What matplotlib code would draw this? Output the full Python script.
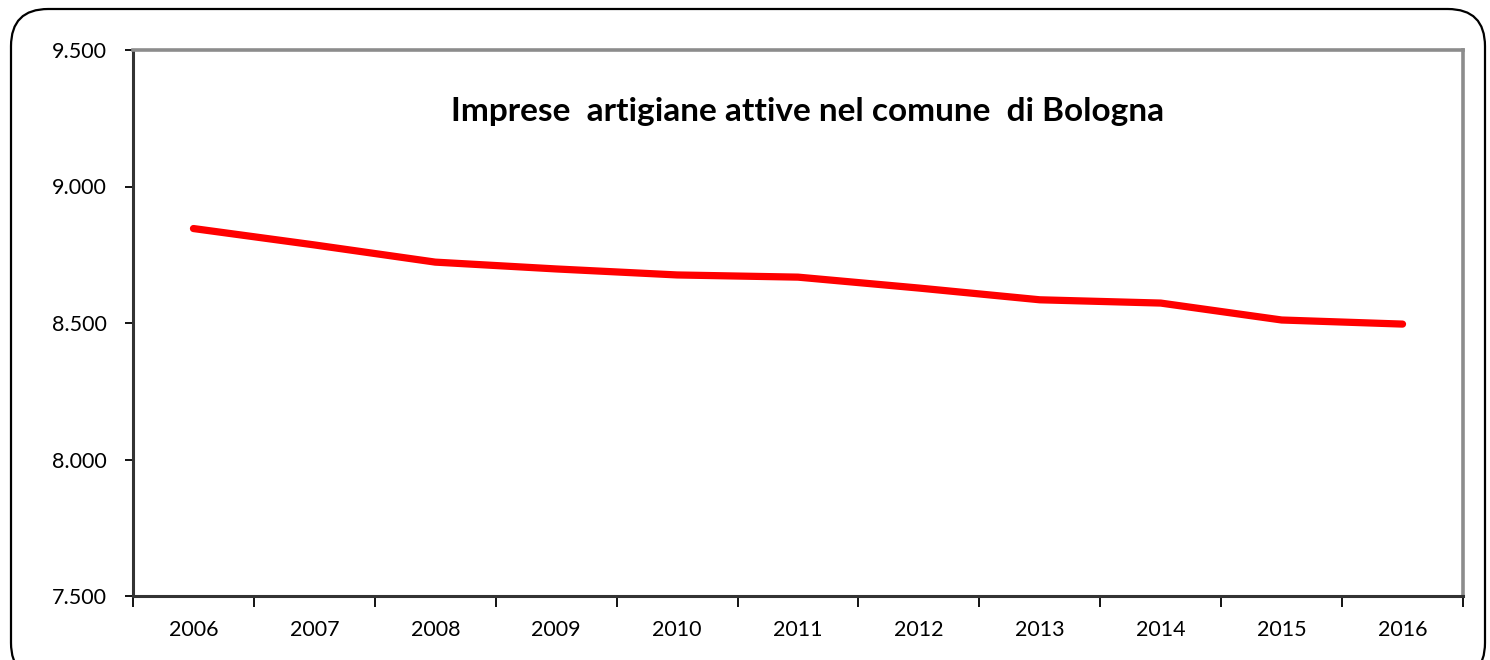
import matplotlib.pyplot as plt
from matplotlib.patches import FancyBboxPatch
from matplotlib.ticker import FixedLocator, FuncFormatter
import numpy as np

years = ["2006", "2007", "2008", "2009", "2010", "2011",
         "2012", "2013", "2014", "2015", "2016"]
imprese = [8846, 8786, 8723, 8698, 8676, 8668, 8628, 8585, 8573, 8511, 8496]
yticks = [7500, 8000, 8500, 9000, 9500]
title = "Imprese  artigiane attive nel comune  di Bologna"

plt.rcParams['font.family'] = ['Lato', 'DejaVu Sans']

fig = plt.figure(figsize=(14.9, 6.6), dpi=100)
ax = fig.add_axes([133 / 1490, 1 - 596 / 660, (1463 - 133) / 1490, (596 - 50) / 660])

# rounded frame around the whole chart
frame = FancyBboxPatch((11 / 1490, -20 / 660), (1485 - 11) / 1490, (651 + 20) / 660,
                       boxstyle="round,pad=0,rounding_size=0.025",
                       transform=fig.transFigure, fill=False, edgecolor='black',
                       linewidth=1.6, mutation_aspect=1490 / 660, clip_on=False)
fig.patches.append(frame)

x = np.arange(len(years))
ax.plot(x, imprese, color='#FF0000', linewidth=5.2, solid_capstyle='round',
        solid_joinstyle='round')

ax.set_xlim(-0.5, len(years) - 0.5)
ax.set_ylim(7500, 9500)

# category ticks between years (Excel style)
ax.xaxis.set_major_locator(FixedLocator(np.arange(-0.5, len(years), 1.0)))
ax.xaxis.set_major_formatter(FuncFormatter(lambda v, p: ""))
ax.xaxis.set_minor_locator(FixedLocator(x))
ax.set_xticklabels(years, minor=True)
ax.tick_params(axis='x', which='major', direction='out', length=8, width=1.3, color='black')
ax.tick_params(axis='x', which='minor', length=0, pad=17, labelsize=15.5)

ax.set_yticks(yticks)
ax.yaxis.set_major_formatter(FuncFormatter(lambda v, p: f"{int(v):,}".replace(",", ".")))
ax.tick_params(axis='y', direction='out', length=6, width=1.3, labelsize=15.5, pad=13)

for side in ['left', 'bottom']:
    ax.spines[side].set_color('#333333')
    ax.spines[side].set_linewidth(2.2)
for side in ['top', 'right']:
    ax.spines[side].set_color('#8c8c8c')
    ax.spines[side].set_linewidth(2.6)

ax.text(0.507, 0.888, title, transform=ax.transAxes, ha='center', va='center',
        fontsize=24, fontweight='bold')

fig.savefig('out.png', dpi=100)
